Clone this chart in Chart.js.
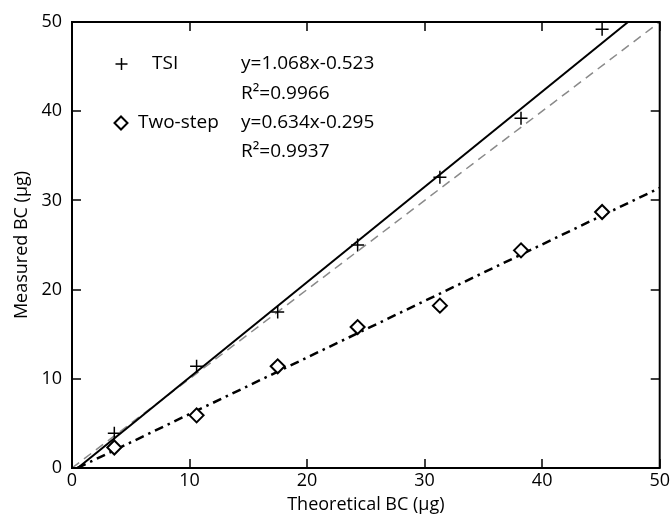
<!DOCTYPE html>
<html>
<head>
<meta charset="utf-8">
<script src="https://cdn.jsdelivr.net/npm/chart.js@4.4.0/dist/chart.umd.min.js"></script>
<style>
html,body{margin:0;padding:0;background:#fff;}
#wrap{width:672px;height:517px;position:relative;}
</style>
</head>
<body>
<div id="wrap"><canvas id="c" width="672" height="517"></canvas></div>
<script>
// ---- data ----
const theoreticalBC = [3.6, 10.6, 17.5, 24.3, 31.3, 38.2, 45.1];
const tsiMeasured = [3.9, 11.4, 17.5, 25.0, 32.6, 39.2, 49.2];
const twoStepMeasured = [2.3, 5.9, 11.4, 15.8, 18.2, 24.4, 28.7];
const tickValues = [0, 10, 20, 30, 40, 50];
const seriesNames = ['TSI', 'Two-step'];
const tsiFit = {slope: 1.068, intercept: -0.523, r2: '0.9966'};
const twoStepFit = {slope: 0.634, intercept: -0.295, r2: '0.9937'};
const axisMin = 0, axisMax = 50;
const xTitle = 'Theoretical BC (\u03bcg)';
const yTitle = 'Measured BC (\u03bcg)';

const FONT = "'Open Sans', 'DejaVu Sans', sans-serif";

function pts(xs, ys){ return xs.map((x,i)=>({x:x, y:ys[i]})); }
function fitLine(f, xEnd){
  const x0 = -f.intercept / f.slope;
  return [{x:x0, y:0}, {x:xEnd, y:f.slope*xEnd + f.intercept}];
}
function eqText(f){
  return 'y=' + f.slope.toFixed(3) + 'x' + (f.intercept<0?'-':'+') + Math.abs(f.intercept).toFixed(3);
}

// frame + inward ticks on all four sides
const framePlugin = {
  id: 'frame',
  afterDatasetsDraw(chart){
    const {ctx, chartArea:a, scales} = chart;
    ctx.save();
    ctx.strokeStyle = '#000';
    ctx.lineWidth = 2;
    ctx.strokeRect(a.left, a.top, a.right - a.left, a.bottom - a.top);
    ctx.lineWidth = 1.5;
    const L = 9;
    ctx.beginPath();
    tickValues.forEach(v => {
      const px = Math.round(scales.x.getPixelForValue(v));
      ctx.moveTo(px, a.bottom); ctx.lineTo(px, a.bottom - L);
      ctx.moveTo(px, a.top); ctx.lineTo(px, a.top + L);
      const py = Math.round(scales.y.getPixelForValue(v));
      ctx.moveTo(a.left, py); ctx.lineTo(a.left + L, py);
      ctx.moveTo(a.right, py); ctx.lineTo(a.right - L, py);
    });
    ctx.stroke();
    ctx.restore();
  }
};

// in-plot legend with fit equations
const legendPlugin = {
  id: 'fitLegend',
  afterDraw(chart){
    const ctx = chart.ctx;
    ctx.save();
    ctx.fillStyle = '#000';
    ctx.strokeStyle = '#000';
    ctx.font = '19px ' + FONT;
    ctx.textBaseline = 'middle';
    ctx.textAlign = 'left';
    const rows = [64, 93.5, 123, 152];
    // TSI marker (+)
    ctx.lineWidth = 1.5;
    ctx.beginPath();
    ctx.moveTo(121.5 - 6, rows[0]); ctx.lineTo(121.5 + 6, rows[0]);
    ctx.moveTo(121.5, rows[0] - 6); ctx.lineTo(121.5, rows[0] + 6);
    ctx.stroke();
    ctx.fillText(seriesNames[0], 152, rows[0]);
    ctx.fillText(eqText(tsiFit), 241, rows[0]);
    ctx.fillText('R\u00b2=' + tsiFit.r2, 241, rows[1]);
    // Two-step marker (diamond)
    ctx.lineWidth = 2;
    ctx.beginPath();
    ctx.moveTo(121 - 6.5, rows[2]); ctx.lineTo(121, rows[2] - 6.5);
    ctx.lineTo(121 + 6.5, rows[2]); ctx.lineTo(121, rows[2] + 6.5);
    ctx.closePath();
    ctx.stroke();
    ctx.fillText(seriesNames[1], 138, rows[2]);
    ctx.fillText(eqText(twoStepFit), 241, rows[2]);
    ctx.fillText('R\u00b2=' + twoStepFit.r2, 241, rows[3]);
    ctx.restore();
  }
};

new Chart(document.getElementById('c'), {
  type: 'scatter',
  data: {
    datasets: [
      {
        label: '1:1',
        data: [{x:axisMin, y:axisMin}, {x:axisMax, y:axisMax}],
        showLine: true, pointRadius: 0,
        borderColor: '#8a8a8a', borderWidth: 1.5, borderDash: [9, 6],
        order: 5
      },
      {
        label: 'TSI fit',
        data: fitLine(tsiFit, (axisMax - tsiFit.intercept) / tsiFit.slope),
        showLine: true, pointRadius: 0,
        borderColor: '#000', borderWidth: 2,
        order: 4
      },
      {
        label: 'Two-step fit',
        data: fitLine(twoStepFit, axisMax),
        showLine: true, pointRadius: 0,
        borderColor: '#000', borderWidth: 2.5, borderDash: [9, 5, 2.5, 5],
        order: 3
      },
      {
        label: seriesNames[0],
        data: pts(theoreticalBC, tsiMeasured),
        pointStyle: 'cross', pointRadius: 6.5, pointHoverRadius: 6.5,
        borderColor: '#000', borderWidth: 1.5, backgroundColor: '#000',
        order: 2
      },
      {
        label: seriesNames[1],
        data: pts(theoreticalBC, twoStepMeasured),
        pointStyle: 'rectRot', pointRadius: 7, pointHoverRadius: 7,
        borderColor: '#000', borderWidth: 2, backgroundColor: '#fff',
        order: 1
      }
    ]
  },
  options: {
    responsive: false,
    animation: false,
    events: [],
    layout: {padding: {left: 0, top: 22, right: 12, bottom: 0}},
    plugins: {legend: {display: false}, tooltip: {enabled: false}},
    scales: {
      x: {
        type: 'linear', min: axisMin, max: axisMax,
        afterBuildTicks: s => { s.ticks = tickValues.map(v => ({value: v})); },
        afterFit: s => { s.height = 49; },
        grid: {display: false, drawTicks: false},
        border: {display: false},
        ticks: {color: '#000', font: {family: FONT, size: 18}, padding: 2, maxRotation: 0},
        title: {display: true, text: xTitle, color: '#000', font: {family: FONT, size: 18}, padding: {top: 0, bottom: 1}}
      },
      y: {
        type: 'linear', min: axisMin, max: axisMax,
        afterBuildTicks: s => { s.ticks = tickValues.map(v => ({value: v})); },
        afterFit: s => { s.width = 72; },
        grid: {display: false, drawTicks: false},
        border: {display: false},
        ticks: {color: '#000', font: {family: FONT, size: 18}, padding: 10},
        title: {display: true, text: yTitle, color: '#000', font: {family: FONT, size: 18}, padding: {top: 11, bottom: 0}}
      }
    }
  },
  plugins: [framePlugin, legendPlugin]
});
</script>
</body>
</html>
